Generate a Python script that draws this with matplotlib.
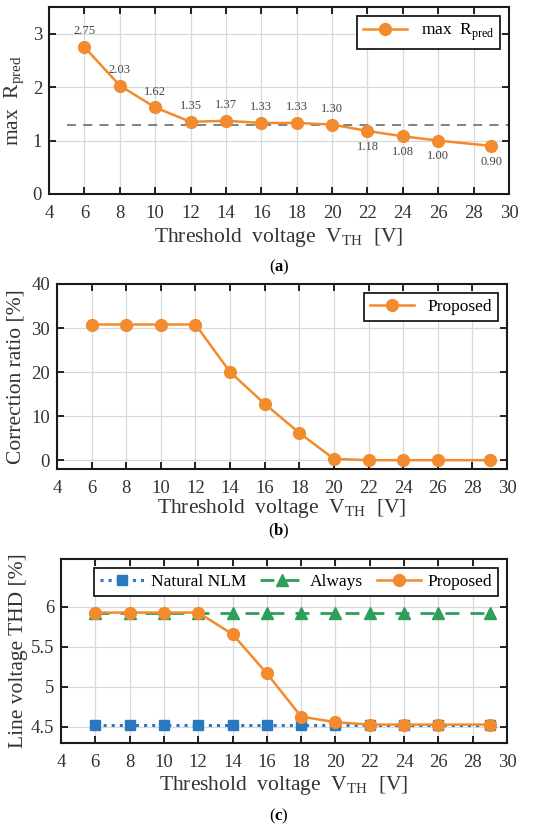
import matplotlib
matplotlib.use("Agg")
import matplotlib.pyplot as plt

plt.rcParams['font.family'] = ['Liberation Serif', 'DejaVu Serif']
plt.rcParams['mathtext.fontset'] = 'custom'
plt.rcParams['mathtext.rm'] = 'Liberation Serif'
plt.rcParams['mathtext.bf'] = 'Liberation Serif:bold'

# data
vth = [6, 8, 10, 12, 14, 16, 18, 20, 22, 24, 26, 29]
max_rpred = [2.75, 2.03, 1.62, 1.35, 1.37, 1.33, 1.33, 1.30, 1.18, 1.08, 1.00, 0.90]
rpred_ref = 1.3
corr_ratio = [30.8, 30.8, 30.8, 30.8, 20.0, 12.8, 6.2, 0.3, 0.0, 0.0, 0.0, 0.0]
thd_natural = [4.53] * 12
thd_always = [5.93] * 12
thd_proposed = [5.93, 5.93, 5.93, 5.93, 5.66, 5.17, 4.63, 4.56, 4.53, 4.53, 4.53, 4.53]

orange = '#F28A2E'
blue = '#2A78C0'
green = '#2E9E5B'
txt = '#333333'
xlab = r'Threshold  voltage  V$_{\mathrm{TH}}$  [V]'

fig = plt.figure(figsize=(5.5, 8.27), dpi=100)
W, H = 550, 827

def add_ax(l, t, r, b):
    return fig.add_axes([l / W, 1 - b / H, (r - l) / W, (b - t) / H])

def style(ax, lp=2):
    ax.set_xlim(4, 30)
    ax.set_xticks(range(4, 31, 2))
    ax.grid(True, color='#d8d8d8', linewidth=0.9)
    ax.set_axisbelow(True)
    ax.tick_params(direction='in', top=True, right=True, length=5, width=1.2,
                   labelsize=13.5, labelcolor=txt)
    ax.tick_params(axis='x', pad=8)
    ax.tick_params(axis='y', pad=5)
    for s in ax.spines.values():
        s.set_linewidth(1.5)
        s.set_color('#1a1a1a')
    ax.set_xlabel(xlab, fontsize=15.5, color=txt, labelpad=lp)

def legend(ax, **kw):
    lg = ax.legend(loc='upper right', fontsize=12.5, fancybox=False, edgecolor='#1a1a1a',
                   framealpha=1, borderpad=0.35, handlelength=2.5, **kw)
    lg.get_frame().set_linewidth(1.3)

# (a)
ax1 = add_ax(49, 7, 509, 194)
ax1.plot([5, 30], [rpred_ref, rpred_ref], '--', color='#777777', lw=1.3, dashes=(5, 4))
ax1.plot(vth, max_rpred, '-o', color=orange, lw=1.8, ms=8.5, label=r'max  R$_{\mathrm{pred}}$')
for i, (x, y) in enumerate(zip(vth, max_rpred)):
    if i < 8:
        ax1.annotate(f'{y:.2f}', (x, y), xytext=(0, 7), textcoords='offset points',
                     ha='center', va='bottom', fontsize=9, color='#444444')
    else:
        ax1.annotate(f'{y:.2f}', (x, y), xytext=(0, -7), textcoords='offset points',
                     ha='center', va='top', fontsize=9, color='#444444')
ax1.set_ylim(0, 3.5)
ax1.set_yticks([0, 1, 2, 3])
style(ax1, lp=3)
ax1.set_ylabel(r'max  R$_{\mathrm{pred}}$', fontsize=15.5, color=txt, labelpad=4)
legend(ax1)
fig.text(279 / W, 1 - 267 / H, r'($\mathbf{a}$)', ha='center', va='center', fontsize=12)

# (b)
ax2 = add_ax(57, 284, 507, 469)
ax2.plot(vth, corr_ratio, '-o', color=orange, lw=1.8, ms=8.5, label='Proposed')
ax2.set_ylim(-2, 40)
ax2.set_yticks([0, 10, 20, 30, 40])
style(ax2, lp=0)
ax2.set_ylabel('Correction ratio [%]', fontsize=15.5, color=txt, labelpad=4)
legend(ax2)
fig.text(279 / W, 1 - 531 / H, r'($\mathbf{b}$)', ha='center', va='center', fontsize=12)

# (c)
ax3 = add_ax(61, 559, 507, 743)
ax3.plot(vth, thd_natural, ':s', color=blue, lw=2.2, ms=6.5, label='Natural NLM')
ax3.plot(vth, thd_always, '--^', color=green, lw=2.0, ms=8.5, dashes=(5, 4), label='Always')
ax3.plot(vth, thd_proposed, '-o', color=orange, lw=1.8, ms=8.5, label='Proposed')
ax3.set_ylim(4.3, 6.6)
ax3.set_yticks([4.5, 5, 5.5, 6])
ax3.set_yticklabels(['4.5', '5', '5.5', '6'])
style(ax3, lp=2)
ax3.set_ylabel('Line voltage THD [%]', fontsize=15.5, color=txt, labelpad=2)
legend(ax3, ncol=3, columnspacing=0.8, handletextpad=0.4)
fig.text(279 / W, 1 - 816 / H, r'($\mathbf{c}$)', ha='center', va='center', fontsize=12)

fig.savefig('out.png', dpi=100)
